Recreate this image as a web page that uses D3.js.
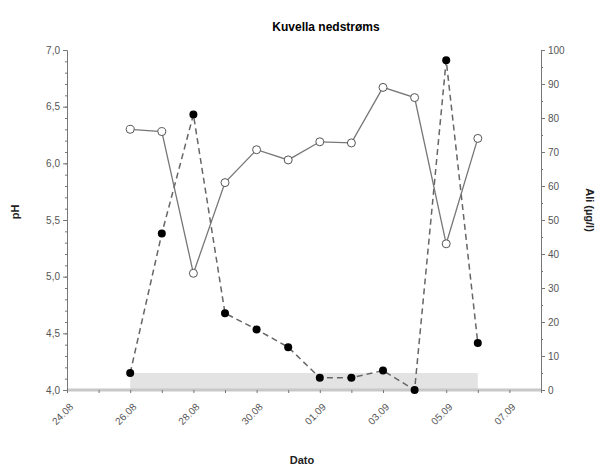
<!DOCTYPE html>
<html>
<head>
<meta charset="utf-8">
<script src="https://cdn.jsdelivr.net/npm/d3@7"></script>
<style>
  body { margin: 0; background: #fff; }
  svg text { font-family: "Liberation Sans", Arial, sans-serif; }
  .tick text { fill: #555; font-size: 10px; }
  .axis-label { font-size: 11px; font-weight: bold; fill: #222; }
</style>
</head>
<body>
<div id="chart"></div>
<script>
// Kuvella nedstrøms: pH og Ali
const dates = ["2023-08-26", "2023-08-27", "2023-08-28", "2023-08-29", "2023-08-30", "2023-08-31",
  "2023-09-01", "2023-09-02", "2023-09-03", "2023-09-04", "2023-09-05", "2023-09-06"];
const phValues = [6.30, 6.28, 5.03, 5.83, 6.12, 6.03, 6.19, 6.18, 6.67, 6.58, 5.29, 6.22];
const aliValues = [5, 46, 81, 22.6, 17.8, 12.6, 3.6, 3.6, 5.7, 0, 97, 13.8];
const bandRange = ["2023-08-26", "2023-09-06"];
const bandLevel = 5;
const xDomain = ["2023-08-24", "2023-09-08"];

const margin = { top: 50, right: 63, bottom: 78, left: 67 };
const width = 604 - margin.left - margin.right;
const height = 468 - margin.top - margin.bottom;

const parse = d3.timeParse("%Y-%m-%d");

const svg = d3.select("#chart")
  .append("svg")
  .attr("width", 604)
  .attr("height", 468);

const g = svg.append("g")
  .attr("transform", `translate(${margin.left},${margin.top})`);

const x = d3.scaleTime()
  .domain(xDomain.map(parse))
  .range([0, width]);

const yPh = d3.scaleLinear().domain([4, 7]).range([height, 0]);
const yAli = d3.scaleLinear().domain([0, 100]).range([height, 0]);

const data = dates.map((d, i) => ({ date: parse(d), ph: phValues[i], ali: aliValues[i] }));

// grå felt
g.append("rect")
  .attr("x", x(parse(bandRange[0])))
  .attr("width", x(parse(bandRange[1])) - x(parse(bandRange[0])))
  .attr("y", yAli(bandLevel))
  .attr("height", height - yAli(bandLevel))
  .attr("fill", "#e3e3e3");

// x axis
const xAxisG = g.append("g")
  .attr("transform", `translate(0,${height})`);

xAxisG.append("line")
  .attr("x1", 0).attr("x2", width)
  .attr("stroke", "#c8c8c8").attr("stroke-width", 3);

xAxisG.call(d3.axisBottom(x)
    .ticks(d3.timeDay.every(1))
    .tickSize(3)
    .tickFormat(d => (d3.timeDay.count(parse(xDomain[0]), d) % 2 === 0 && d < parse("2023-09-08")) ? d3.timeFormat("%d.%m")(d) : ""))
  .call(a => a.select(".domain").remove())
  .call(a => a.selectAll(".tick line").attr("stroke", "#777"))
  .selectAll("text")
  .attr("transform", "rotate(-45)")
  .attr("dx", "-0.8em")
  .attr("dy", "1.1em")
  .style("text-anchor", "end");

// left axis
const yLeft = g.append("g")
  .call(d3.axisLeft(yPh).tickValues(d3.range(4, 7.01, 0.5)).tickFormat(d => d3.format(".1f")(d).replace(".", ",")).tickSize(4));
yLeft.append("g")
  .call(d3.axisLeft(yPh).tickValues(d3.range(40, 71, 1).map(v => v / 10)).tickFormat("").tickSize(2))
  .call(a => a.select(".domain").remove());
yLeft.selectAll(".domain, .tick line").attr("stroke", "#777");

// right axis
const yRight = g.append("g")
  .attr("transform", `translate(${width},0)`)
  .call(d3.axisRight(yAli).tickValues(d3.range(0, 101, 10)).tickSize(4));
yRight.append("g")
  .call(d3.axisRight(yAli).tickValues(d3.range(5, 100, 10)).tickFormat("").tickSize(2))
  .call(a => a.select(".domain").remove());
yRight.selectAll(".domain, .tick line").attr("stroke", "#777");

// Ali linje (stiplet)
g.append("path")
  .datum(data)
  .attr("fill", "none")
  .attr("stroke", "#666")
  .attr("stroke-width", 1.5)
  .attr("stroke-dasharray", "6,4")
  .attr("d", d3.line().x(d => x(d.date)).y(d => yAli(d.ali)));

// pH linje
g.append("path")
  .datum(data)
  .attr("fill", "none")
  .attr("stroke", "#777")
  .attr("stroke-width", 1.3)
  .attr("d", d3.line().x(d => x(d.date)).y(d => yPh(d.ph)));

g.selectAll(".ali-dot")
  .data(data)
  .enter()
  .append("circle")
  .attr("class", "ali-dot")
  .attr("cx", d => x(d.date))
  .attr("cy", d => yAli(d.ali))
  .attr("r", 4)
  .attr("fill", "#000");

g.selectAll(".ph-dot")
  .data(data)
  .enter()
  .append("circle")
  .attr("class", "ph-dot")
  .attr("cx", d => x(d.date))
  .attr("cy", d => yPh(d.ph))
  .attr("r", 4)
  .attr("fill", "#fff")
  .attr("stroke", "#555")
  .attr("stroke-width", 1);

// Titler
svg.append("text")
  .attr("x", 326)
  .attr("y", 31)
  .attr("text-anchor", "middle")
  .style("font-size", "12px")
  .style("font-weight", "bold")
  .text("Kuvella nedstrøms");

svg.append("text")
  .attr("class", "axis-label")
  .attr("text-anchor", "middle")
  .attr("x", 302)
  .attr("y", 464)
  .text("Dato");

svg.append("text")
  .attr("class", "axis-label")
  .attr("text-anchor", "middle")
  .attr("transform", "rotate(-90)")
  .attr("x", -(margin.top + height / 2) + 8)
  .attr("y", 19)
  .text("pH");

svg.append("text")
  .attr("class", "axis-label")
  .attr("text-anchor", "middle")
  .attr("transform", "rotate(90)")
  .attr("x", margin.top + height / 2 - 10)
  .attr("y", -586)
  .text("Ali (µg/l)");
</script>
</body>
</html>
